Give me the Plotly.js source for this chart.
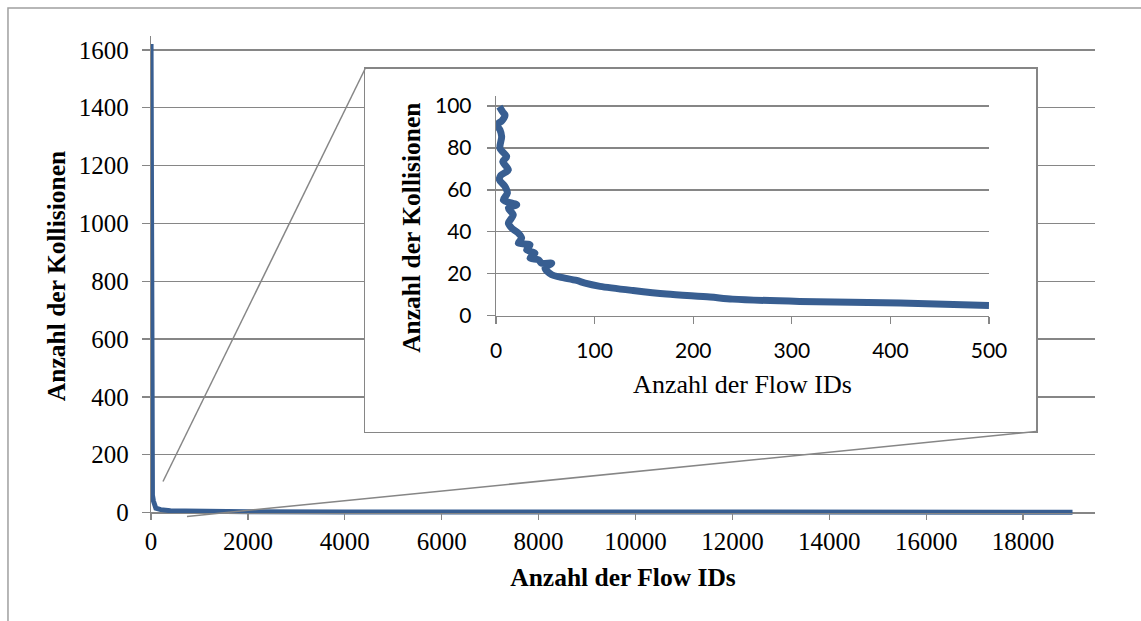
<!DOCTYPE html>
<html>
<head>
<meta charset="utf-8">
<script src="https://cdn.plot.ly/plotly-3.0.1.min.js"></script>
<style>
html, body { margin: 0; padding: 0; background: #ffffff; }
#chart { width: 1141px; height: 621px; }
</style>
</head>
<body>
<div id="chart"></div>
<script>
// ---- data ----
// main chart: number of collisions per flow ID (sorted descending)
var mainFlowIds = [1, 3, 8, 15, 30, 50, 100, 200, 400, 700, 1000, 2000, 4000, 8000, 12000, 16000, 19020];
var mainCollisions = [1620, 600, 200, 100, 60, 40, 15, 10, 6, 5, 4, 3, 2, 1, 1, 1, 1];

// inset chart: first 500 flow IDs, values up to 100
var insetFlowIds = [3.4, 7, 9.1, 6, 0.7, 4, 5.7, 4, 10.8, 6.8, 12.5, 5, 3.4, 9.1, 11.5, 7.4, 21, 12.5, 17.5, 12.5,
  15.9, 22.6, 26, 22.6, 34.5, 31, 39.5, 34.5, 43, 46.3, 56.5, 49.7, 56.5, 65, 81.8, 90.3, 105.5, 139, 173, 217, 240, 308, 410, 500];
var insetCollisions = [99.7, 97, 95.7, 93, 91, 88.6, 85.4, 79.8, 75.9, 73.5, 69.5, 67, 64.8, 61.6, 58.4, 55.2, 52.9, 51.3, 48.1, 44.1,
  41.8, 39.4, 37, 34.6, 33.8, 31.4, 29.8, 27.5, 26.7, 25, 25, 22.7, 19.5, 18.4, 16.8, 15.5, 14, 12, 10.3, 8.9, 7.9, 6.8, 6, 4.9];

var xTitle = 'Anzahl der Flow IDs';
var yTitle = 'Anzahl der Kollisionen';

var mainXTicks = [0, 2000, 4000, 6000, 8000, 10000, 12000, 14000, 16000, 18000];
var mainYTicks = [0, 200, 400, 600, 800, 1000, 1200, 1400, 1600];
var insetXTicks = [0, 100, 200, 300, 400, 500];
var insetYTicks = [0, 20, 40, 60, 80, 100];

// ---- styling ----
var blue = '#385E91';
var grey = '#868686';
var serif = 'Liberation Serif, Times New Roman, serif';
var sans = 'Lato, Open Sans, sans-serif';

var traces = [
  {
    x: mainFlowIds, y: mainCollisions, xaxis: 'x', yaxis: 'y',
    type: 'scatter', mode: 'lines',
    line: { color: blue, width: 5 },
    hoverinfo: 'skip', showlegend: false
  },
  {
    x: [], y: [], xaxis: 'x2', yaxis: 'y2', type: 'scatter', mode: 'lines',
    hoverinfo: 'skip', showlegend: false
  },
  {
    x: insetFlowIds, y: insetCollisions, xaxis: 'x3', yaxis: 'y3',
    type: 'scatter', mode: 'lines',
    line: { color: blue, width: 7, shape: 'spline', smoothing: 0.8 },
    hoverinfo: 'skip', showlegend: false
  }
];

var layout = {
  width: 1141, height: 621,
  margin: { l: 151, r: 46, t: 36, b: 104.5, pad: 0 },
  paper_bgcolor: '#ffffff',
  plot_bgcolor: '#ffffff',
  showlegend: false,
  xaxis: {
    domain: [0, 1], range: [0, 19484],
    anchor: 'free', position: 0.00728,
    tickvals: mainXTicks, ticktext: mainXTicks.map(String),
    ticks: 'outside', ticklen: 6, tickwidth: 1.3, tickcolor: grey,
    showline: true, linecolor: grey, linewidth: 1.3,
    showgrid: false, zeroline: false,
    tickfont: { family: serif, size: 25, color: '#000' },
    title: { text: xTitle, font: { family: serif, size: 25.5, color: '#000', weight: 'bold' }, standoff: 14 }
  },
  yaxis: {
    domain: [0, 1], range: [-12, 1648],
    anchor: 'x',
    tickvals: mainYTicks, ticktext: mainYTicks.map(String),
    ticks: 'outside', ticklen: 8, tickwidth: 1.3, tickcolor: grey,
    ticklabelstandoff: 8,
    showline: true, linecolor: grey, linewidth: 1.3,
    showgrid: true, gridcolor: grey, gridwidth: 1.3, zeroline: false,
    tickfont: { family: serif, size: 25, color: '#000' },
    title: { text: yTitle, font: { family: serif, size: 25.5, color: '#000', weight: 'bold' }, standoff: 5 }
  },
  xaxis2: {
    domain: [0.2267, 0.9375], range: [0, 1], anchor: 'y2',
    showline: true, mirror: true, linecolor: grey, linewidth: 1.5,
    showgrid: false, zeroline: false, showticklabels: false, ticks: ''
  },
  yaxis2: {
    domain: [0.1759, 0.9313], range: [0, 1], anchor: 'x2',
    showline: true, mirror: true, linecolor: grey, linewidth: 1.5,
    showgrid: false, zeroline: false, showticklabels: false, ticks: ''
  },
  xaxis3: {
    domain: [0.3655, 0.8877], range: [0, 500], anchor: 'y3',
    tickvals: insetXTicks, ticktext: insetXTicks.map(String),
    ticks: 'outside', ticklen: 7, tickwidth: 1.3, tickcolor: grey,
    ticklabelstandoff: 9,
    showline: true, linecolor: grey, linewidth: 1.3,
    showgrid: false, zeroline: false,
    tickfont: { family: sans, size: 21, color: '#000' },
    title: { text: xTitle, font: { family: serif, size: 26, color: '#000' }, standoff: 13 }
  },
  yaxis3: {
    domain: [0.4173, 0.8751], range: [0, 104.8], anchor: 'x3',
    tickvals: insetYTicks, ticktext: insetYTicks.map(String),
    ticks: 'outside', ticklen: 8, tickwidth: 1.3, tickcolor: grey,
    ticklabelstandoff: 11,
    showline: true, linecolor: grey, linewidth: 1.3,
    showgrid: true, gridcolor: grey, gridwidth: 1.3, zeroline: false,
    tickfont: { family: sans, size: 21, color: '#000' }
  },
  annotations: [
    {
      xref: 'paper', yref: 'paper', x: 0.2765, y: 0.6004,
      text: yTitle, textangle: -90, showarrow: false,
      xanchor: 'center', yanchor: 'middle',
      font: { family: serif, size: 25.5, color: '#000', weight: 'bold' }
    }
  ],
  shapes: [
    { type: 'rect', xref: 'paper', yref: 'paper', x0: -0.1515, x1: 1.0583, y0: -0.236, y1: 1.0583,
      line: { color: '#a0a0a0', width: 1.5 }, fillcolor: 'rgba(0,0,0,0)', layer: 'below' },
    { type: 'line', xref: 'paper', yref: 'paper', x0: 0.0127, y0: 0.0718, x1: 0.2267, y1: 0.9313,
      line: { color: grey, width: 1.5 }, layer: 'above' },
    { type: 'line', xref: 'paper', yref: 'paper', x0: 0.0381, y0: -0.0010, x1: 0.9375, y1: 0.1759,
      line: { color: grey, width: 1.5 }, layer: 'above' }
  ]
};

Plotly.newPlot('chart', traces, layout, { staticPlot: true, displayModeBar: false });
</script>
</body>
</html>
